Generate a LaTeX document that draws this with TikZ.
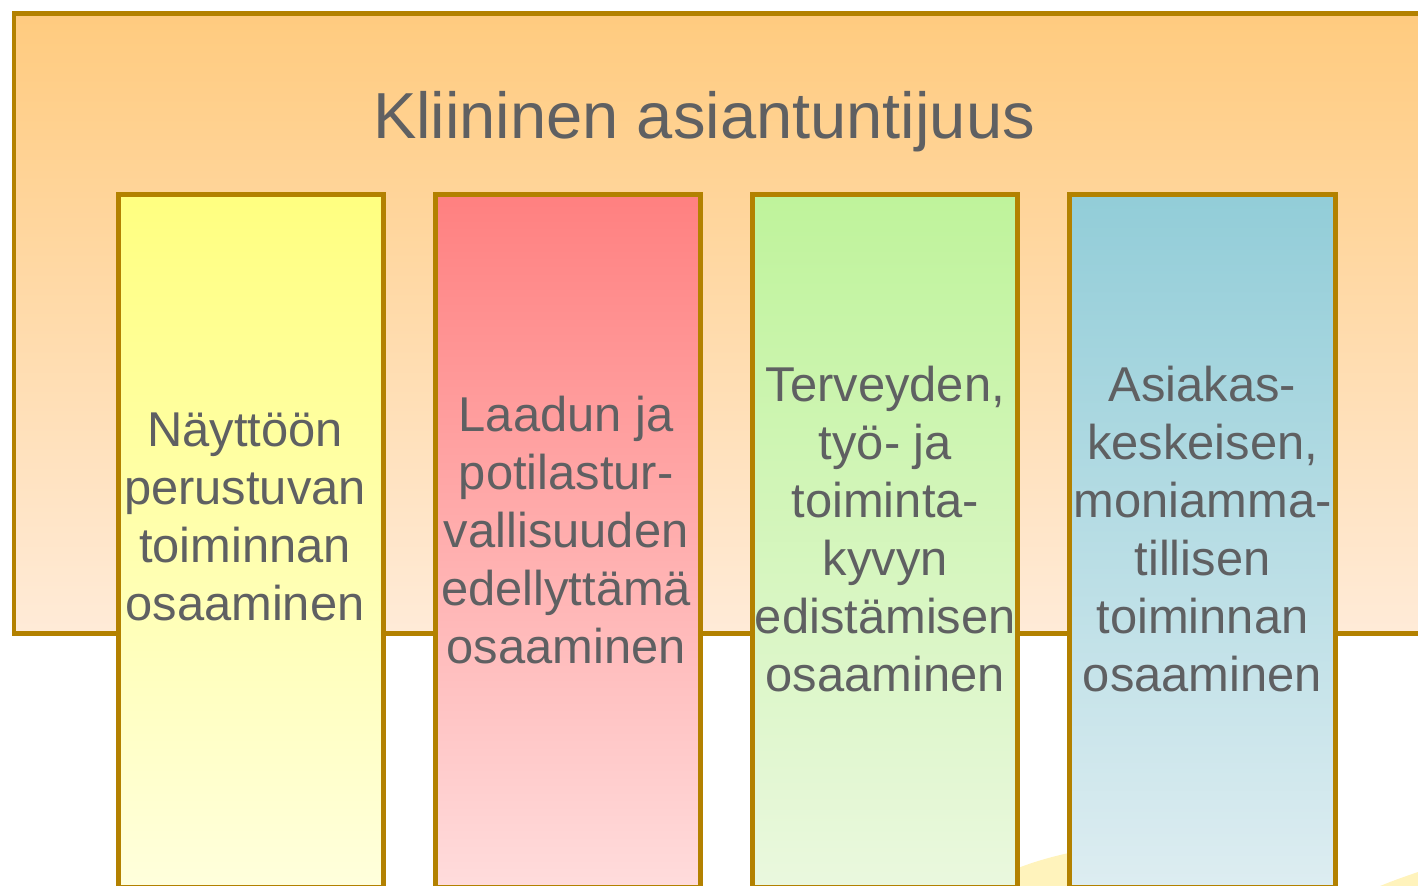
\documentclass[tikz,border=0pt]{standalone}
\usepackage{fontspec}
\setmainfont{Liberation Sans}
\usetikzlibrary{positioning}
\definecolor{rim}{HTML}{B38100}
\definecolor{txtgrey}{HTML}{5F6062}
\definecolor{sand}{HTML}{FFF3BC}
\definecolor{frametop}{HTML}{FFCB7F}
\definecolor{framebot}{HTML}{FFEBD8}
\definecolor{yeltop}{HTML}{FFFF80}
\definecolor{yelbot}{HTML}{FFFFDC}
\definecolor{redtop}{HTML}{FF8080}
\definecolor{redbot}{HTML}{FFDCDC}
\definecolor{grntop}{HTML}{BFF39B}
\definecolor{grnbot}{HTML}{EAF8DE}
\definecolor{blutop}{HTML}{92CDD8}
\definecolor{blubot}{HTML}{DDEDF1}

\begin{document}
\begin{tikzpicture}[x=0.01cm, y=-0.01cm]
        \tikzstyle{pillar}=[draw=rim, line width=1.42pt, minimum width=2.65cm, minimum height=6.92cm, inner sep=0pt]
        \tikzstyle{pillartext}=[text=txtgrey, font=\fontsize{13.9}{16.5}\selectfont, align=center, inner sep=0pt]

        \useasboundingbox (0,0) rectangle (1418,886);
        \clip (0,0) rectangle (1418,886);

        % pale swoosh behind the pillars
        \fill[sand] (1010,886) -- (1018,868) .. controls (1100,836) and (1250,826) .. (1336,886) -- cycle;
        \fill[sand] (1380,886) .. controls (1395,880) .. (1418,872) -- (1418,886) -- cycle;

        \node[draw=rim, line width=1.42pt, top color=frametop, bottom color=framebot, minimum width=14.5cm, minimum height=6.19cm, anchor=north west, inner sep=0pt] (frame) at (11.5,11.5) {};
        \node[text=txtgrey, font=\fontsize{18.5}{22}\selectfont] (title) at (704,122) {Kliininen asiantuntijuus};

        \node[pillar, anchor=north, top color=yeltop, bottom color=yelbot] (p1) at (251,192.5) {};
        \node[pillar, right=0.47cm of p1, top color=redtop, bottom color=redbot] (p2) {};
        \node[pillar, right=0.47cm of p2, top color=grntop, bottom color=grnbot] (p3) {};
        \node[pillar, right=0.47cm of p3, top color=blutop, bottom color=blubot] (p4) {};

        \node[pillartext, xshift=-0.06cm, yshift=0.24cm] (t1) at (p1.center) {Näyttöön\\perustuvan\\toiminnan\\osaaminen};
        \node[pillartext, xshift=-0.02cm, yshift=0.11cm] (t2) at (p2.center) {Laadun ja\\potilastur-\\vallisuuden\\edellyttämä\\osaaminen};
        \node[pillartext, yshift=0.12cm] (t3) at (p3.center) {Terveyden,\\työ- ja\\toiminta-\\kyvyn\\edistämisen\\osaaminen};
        \node[pillartext, yshift=0.12cm] (t4) at (p4.center) {Asiakas-\\keskeisen,\\moniamma-\\tillisen\\toiminnan\\osaaminen};
\end{tikzpicture}
\end{document}
